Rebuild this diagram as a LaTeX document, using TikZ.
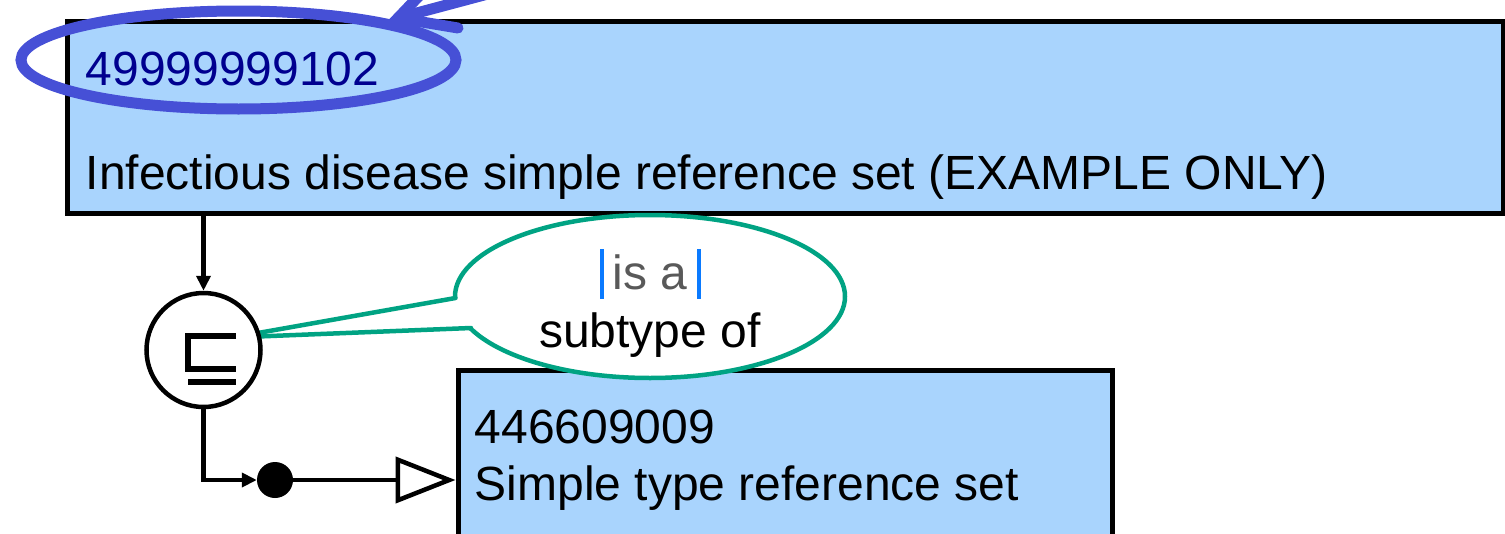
\documentclass[tikz,border=0pt]{standalone}
\usepackage{fontspec}
\setmainfont{Liberation Sans}
\usetikzlibrary{arrows.meta,shapes.geometric}
\definecolor{boxblue}{HTML}{A9D4FD}
\definecolor{idnavy}{HTML}{00008F}
\definecolor{hlblue}{HTML}{4650D6}
\definecolor{callgreen}{HTML}{00A383}
\definecolor{isagrey}{HTML}{595959}
\definecolor{cursorblue}{HTML}{0A7AFF}
\begin{document}
\begin{tikzpicture}[x=1pt,y=-1pt,
  box/.style={draw=black, fill=boxblue, line width=5pt, rectangle, inner sep=0pt},
  txt/.style={font=\fontsize{48pt}{58pt}\selectfont, inner sep=0pt},
  conn/.style={line width=4.5pt, draw=black},
  hlline/.style={draw=hlblue, line width=11pt, line cap=round},
  tailline/.style={draw=callgreen, line width=4.5pt, line cap=round},
]
\clip (0,0) rectangle (1505,533);
% boxes
\node[box, minimum width=1435.5pt, minimum height=192pt] (top) at (785.25,117.5) {};
\node[box, minimum width=654.5pt, minimum height=200pt] (low) at (785.25,470) {};
% texts in boxes
\node[txt, anchor=base west, text=idnavy] (topid) at (85.5,85) {49999999102};
\node[txt, anchor=base west] (topname) at (85.5,189.5) {Infectious disease simple reference set (EXAMPLE ONLY)};
\node[txt, anchor=base west] (lowid) at (474.5,443) {446609009};
\node[txt, anchor=base west] (lowname) at (474.5,500) {Simple type reference set};
% callout
\node[ellipse, draw=callgreen, line width=4.5pt, fill=white, minimum width=390pt, minimum height=163pt, inner sep=0pt] (call) at (650,296.5) {};
\coordinate (tipa) at (258,333);
\coordinate (tipb) at (258,336.5);
\coordinate (ta) at (455.5,298);
\coordinate (tb) at (471,328);
\fill[white] (tipa) -- (ta) -- ([xshift=12pt]ta) -- ([xshift=12pt]tb) -- (tb) -- (tipb) -- cycle;
\draw[tailline] (tipa) -- (ta);
\draw[tailline] (tipb) -- (tb);
\node[txt, anchor=base, text=isagrey] (isa) at (650,289) {is a};
\node[txt, anchor=base] (subof) at (650,347) {subtype of};
\fill[cursorblue] (599.5,249) rectangle (604,299);
\fill[cursorblue] (696.5,249) rectangle (701,299);
% subsumption circle
\node[circle, draw=black, line width=4.5pt, fill=white, minimum size=114pt, inner sep=0pt] (sub) at (203.5,350) {};
\draw[line width=6.5pt, line cap=butt, line join=miter] (236,336) -- (188,336) -- (188,369) -- (236,369);
\draw[line width=6.5pt, line cap=butt] (188,382) -- (236,382);
% connectors
\draw[conn, -{Triangle[length=15pt,width=14pt]}] (top.south -| sub.north) -- (sub.north);
\node[circle, fill=black, minimum size=36pt, inner sep=0pt] (dot) at (275,480) {};
\draw[conn, line join=miter, -{Triangle[length=15pt,width=14pt]}] (sub.south) |- (dot.west);
\draw[conn, line join=round, -{Triangle[open,length=60pt,width=46pt]}] (dot.east) -- (low.west |- dot.east);
% highlight ellipse and arrow
\node[ellipse, draw=hlblue, line width=11pt, minimum width=435pt, minimum height=98pt, inner sep=0pt] (hl) at (238.5,60) {};
\coordinate (hltip) at (398,18);
\coordinate (hltail) at (600,-36);
\coordinate (hlbarba) at (440,-26);
\coordinate (hlbarbb) at (458,28);
\draw[hlline] (hltail) -- (hltip);
\draw[hlline] (hlbarba) -- (hltip) -- (hlbarbb);
\end{tikzpicture}
\end{document}
